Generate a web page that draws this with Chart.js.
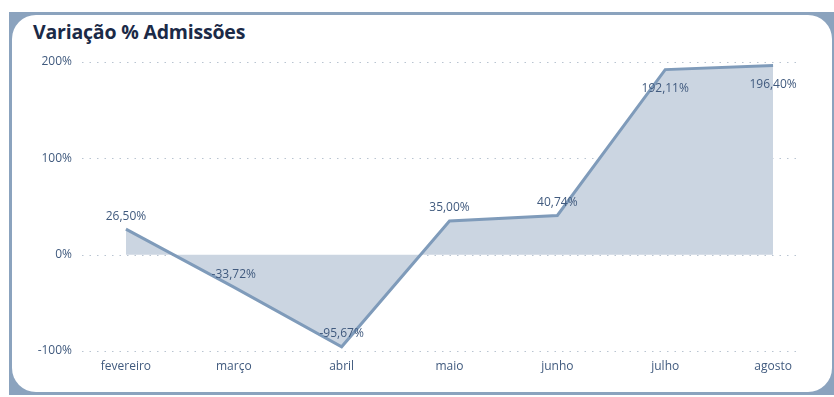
<!DOCTYPE html>
<html>
<head>
<meta charset="utf-8">
<script src="https://cdn.jsdelivr.net/npm/chart.js@4"></script>
<style>
  html, body { margin: 0; padding: 0; background: #fff; }
  body { width: 834px; height: 397px; position: relative; overflow: hidden; font-family: 'Segoe UI', 'Open Sans', sans-serif; }
  .frame { position: absolute; left: 9px; top: 12px; width: 825px; height: 383px; background: #8ba3be; }
  .card { position: absolute; left: 3px; top: 3px; right: 2px; bottom: 3px; background: #fff; border-radius: 24px; }
  .title { position: absolute; left: 33px; top: 18px; font-size: 19.5px; font-weight: 700; color: #1b2a47; letter-spacing: -0.2px; }
  .chart-box { position: absolute; left: 12px; top: 46px; width: 820px; height: 345px; }
</style>
</head>
<body>
<div class="frame"><div class="card"></div></div>
<div class="title">Variação % Admissões</div>
<div class="chart-box"><canvas id="chart-admissoes"></canvas></div>
<script>
// Variação % Admissões - monthly change

const months = ['fevereiro', 'março', 'abril', 'maio', 'junho', 'julho', 'agosto'];
const variation = [26.50, -33.72, -95.67, 35.00, 40.74, 192.11, 196.40];
const yTicks = [-100, 0, 100, 200];

const LINE = '#7f9bba';
const FILL = '#cbd5e1';
const TEXT = '#405a7e';
const FONT = '"Segoe UI", "Open Sans", sans-serif';

const fmtPct = v => v.toFixed(2).replace('.', ',') + '%';

// dotted horizontal gridlines, shorter than the plot area like the original
const dottedGrid = {
  id: 'dottedGrid',
  beforeDatasetsDraw(chart) {
    const { ctx, chartArea, scales } = chart;
    ctx.save();
    ctx.strokeStyle = '#b9c4d1';
    ctx.lineWidth = 1;
    ctx.setLineDash([1.5, 6]);
    for (const t of yTicks) {
      const y = Math.round(scales.y.getPixelForValue(t)) + 0.5;
      ctx.beginPath();
      ctx.moveTo(chartArea.left + 10, y);
      ctx.lineTo(chartArea.right - 27, y);
      ctx.stroke();
    }
    ctx.restore();
  }
};

// value labels: above the point, below when too close to the top
const valueLabels = {
  id: 'valueLabels',
  afterDatasetsDraw(chart) {
    const { ctx, chartArea } = chart;
    const meta = chart.getDatasetMeta(0);
    ctx.save();
    ctx.font = '12px ' + FONT;
    ctx.fillStyle = TEXT;
    ctx.textAlign = 'center';
    ctx.textBaseline = 'middle';
    meta.data.forEach((pt, i) => {
      let y = pt.y - 13;
      if (y - 8 < chartArea.top) y = pt.y + 19;
      ctx.fillText(fmtPct(variation[i]), pt.x, y);
    });
    ctx.restore();
  }
};

new Chart(document.getElementById('chart-admissoes'), {
  type: 'line',
  data: {
    labels: months,
    datasets: [{
      data: variation,
      borderColor: LINE,
      borderWidth: 3,
      backgroundColor: FILL,
      fill: 'origin',
      tension: 0,
      pointRadius: 0,
      pointHoverRadius: 0,
    }]
  },
  options: {
    responsive: true,
    maintainAspectRatio: false,
    animation: false,
    layout: { padding: { top: 16, right: 5, left: 0, bottom: 0 } },
    plugins: { legend: { display: false }, tooltip: { enabled: false } },
    scales: {
      x: {
        offset: true,
        grid: { display: false, drawTicks: false },
        border: { display: false },
        ticks: { color: TEXT, font: { size: 12, family: FONT }, padding: 8, maxRotation: 0 },
        afterFit(scale) { scale.height = 40; }
      },
      y: {
        min: -100,
        max: 200,
        afterBuildTicks(scale) { scale.ticks = yTicks.map(v => ({ value: v })); },
        grid: { display: false, drawTicks: false },
        border: { display: false },
        ticks: { color: TEXT, font: { size: 12, family: FONT }, padding: 0, callback: v => v + '%' },
        afterFit(scale) { scale.width = 60; }
      }
    }
  },
  plugins: [dottedGrid, valueLabels],
});
</script>
</body>
</html>
